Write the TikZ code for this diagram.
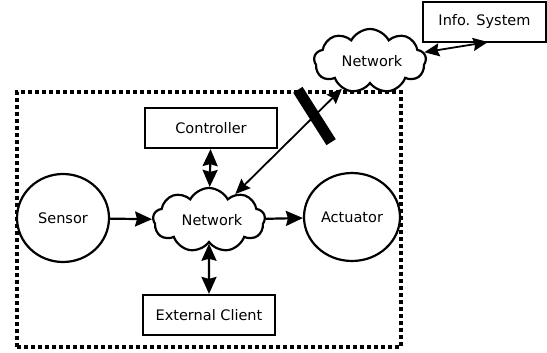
\documentclass[tikz,border=0pt]{standalone}
\usepackage{fontspec}
\setmainfont{DejaVu Sans}
\usetikzlibrary{shapes.geometric,shapes.symbols,arrows.meta}
\begin{document}
\begin{tikzpicture}[x=1pt,y=-1pt,
 every node/.style={font=\fontsize{14.5}{17}\selectfont, inner sep=0pt},
 box/.style={draw, line width=2.2pt, fill=white, minimum width=132pt, minimum height=40pt},
 disc/.style={draw, ellipse, line width=2.2pt, fill=white},
 netcloud/.style={draw, cloud, cloud puffs=9, cloud puff arc=125, cloud ignores aspect, line width=2.2pt, fill=white, minimum width=112pt, minimum height=64pt},
 tip/.tip={Stealth[length=17pt 0,width=15pt 0,inset=2pt 0]},
 smalltip/.tip={Stealth[length=15pt 0,width=13pt 0,inset=2pt 0]},
 link/.style={line width=2.2pt, -tip},
 dlink/.style={line width=2.2pt, tip-tip},
 thinlink/.style={line width=1.8pt, smalltip-smalltip},
 frame/.style={draw, line width=4pt, dash pattern=on 4pt off 3pt, minimum width=384pt, minimum height=255pt},
 bar/.style={fill=black, minimum width=62pt, minimum height=11pt, rotate=-57.6}
]
\useasboundingbox (0,0) rectangle (547,353);
\node[frame] (fr) at (209,219.5) {};
\node[box] (ctrl) at (211,128) {Controller};
\node[box] (ext) at (209,315) {External Client};
\node[box, minimum width=123pt] (info) at (484.5,22) {Info. System};
\node[disc, minimum width=92pt, minimum height=88pt] (sensor) at (63,218) {Sensor};
\node[disc, minimum width=96pt, minimum height=88pt] (act) at (352,217) {Actuator};
\node[netcloud] (net) at (209,220) {\hspace{6pt}Network};
\node[netcloud] (net2) at (370,61) {\hspace{4pt}Network};
\coordinate (ip) at (488,42);
\draw[link] (sensor) -- (net);
\draw[link] (net) -- (act);
\draw[dlink] (ctrl) -- (net);
\draw[dlink] (net) -- (ext);
\draw[thinlink] (net2) -- (net);
\draw[thinlink] (net2) -- (ip);
\node[bar] (cut) at (314.5,116) {};
\end{tikzpicture}
\end{document}
